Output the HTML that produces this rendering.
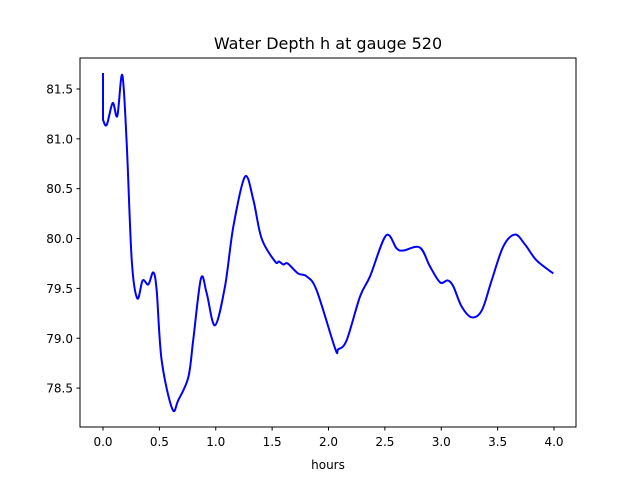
<!DOCTYPE html>
<html><head><meta charset="utf-8"><style>
body{margin:0;background:#fff}
svg text{font-family:"DejaVu Sans","Liberation Sans",sans-serif;fill:#000}
</style></head><body>
<svg id="chart" width="640" height="480" xmlns="http://www.w3.org/2000/svg">
<rect width="640" height="480" fill="#fff"/>
<text x="328" y="49" font-size="16" text-anchor="middle">Water Depth h at gauge 520</text>
<g id="xt"></g><g id="yt"></g>
<path id="line" fill="none" stroke="#0000ff" stroke-width="2" stroke-linejoin="round"/>
<rect x="80" y="58" width="496" height="369" fill="none" stroke="#000" stroke-width="1"/>
<text x="328" y="469" font-size="12" text-anchor="middle">hours</text>
</svg>
<script>
const hours=[0,0,0.033,0.086,0.127,0.171,0.21,0.255,0.304,0.352,0.402,0.446,0.476,0.52,0.615,0.668,0.757,0.80,0.869,0.92,0.993,1.082,1.156,1.259,1.333,1.407,1.526,1.56,1.6,1.638,1.73,1.807,1.895,2.058,2.087,2.161,2.28,2.368,2.51,2.605,2.664,2.81,2.90,2.99,3.057,3.107,3.18,3.27,3.36,3.447,3.55,3.654,3.743,3.846,3.994];
const depth=[81.66,81.19,81.14,81.36,81.23,81.64,80.96,79.78,79.40,79.58,79.54,79.66,79.48,78.78,78.29,78.38,78.61,78.98,79.60,79.45,79.13,79.52,80.12,80.62,80.39,80.0,79.77,79.77,79.74,79.75,79.65,79.62,79.48,78.90,78.89,78.98,79.42,79.62,80.03,79.90,79.88,79.91,79.72,79.56,79.58,79.52,79.32,79.21,79.28,79.58,79.92,80.04,79.94,79.78,79.65];
const xTicks=[0,0.5,1,1.5,2,2.5,3,3.5,4];
const yTicks=[78.5,79,79.5,80,80.5,81,81.5];
const X=t=>103+t*112.75, Y=v=>89+(81.5-v)*99.7;
const NS='http://www.w3.org/2000/svg';
const xt=document.getElementById('xt'), yt=document.getElementById('yt');
xTicks.forEach(t=>{
 const l=document.createElementNS(NS,'line');
 
 
 l.setAttribute('x1',X(t));l.setAttribute('x2',X(t));l.setAttribute('y1',427);l.setAttribute('y2',430.5);l.setAttribute('stroke','#000');
 xt.appendChild(l);
 const s=document.createElementNS(NS,'text');
 
 
 s.setAttribute('x',X(t));s.setAttribute('y',446);s.setAttribute('font-size','12');s.setAttribute('text-anchor','middle');
 s.textContent=t.toFixed(1);xt.appendChild(s);
});
yTicks.forEach(v=>{
 const l=document.createElementNS(NS,'line');
 
 
 l.setAttribute('x1',76.5);l.setAttribute('x2',80);l.setAttribute('y1',Y(v));l.setAttribute('y2',Y(v));l.setAttribute('stroke','#000');
 yt.appendChild(l);
 const s=document.createElementNS(NS,'text');
 
 
 s.setAttribute('x',73);s.setAttribute('y',Y(v)+4.5);s.setAttribute('font-size','12');s.setAttribute('text-anchor','end');
 s.textContent=v.toFixed(1);yt.appendChild(s);
});
const P=hours.map((t,i)=>[X(t),Y(depth[i])]);
let d='M'+P[0][0]+','+P[0][1]+' L'+P[1][0]+','+P[1][1];
for(let i=1;i<P.length-1;i++){
 const p0=P[Math.max(i-1,1)],p1=P[i],p2=P[i+1],p3=P[Math.min(i+2,P.length-1)];
 const c1=[p1[0]+(p2[0]-p0[0])/6,p1[1]+(p2[1]-p0[1])/6];
 const c2=[p2[0]-(p3[0]-p1[0])/6,p2[1]-(p3[1]-p1[1])/6];
 d+=' C'+c1.join(',')+' '+c2.join(',')+' '+p2.join(',');
}
document.getElementById('line').setAttribute('d',d);
</script>
</body></html>
